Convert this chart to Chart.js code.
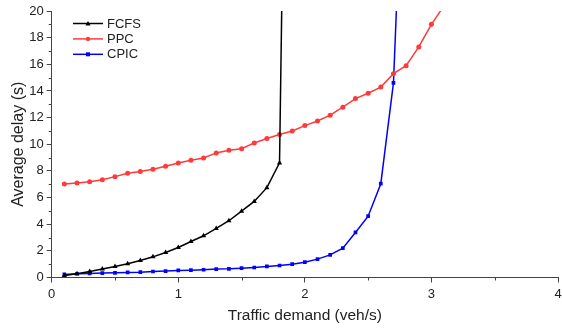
<!DOCTYPE html>
<html>
<head>
<meta charset="utf-8">
<script src="https://cdn.jsdelivr.net/npm/chart.js@4/dist/chart.umd.min.js"></script>
<style>
    html, body { margin: 0; padding: 0; background: #fff; }
    #wrap { width: 562px; height: 328px; }
</style>
</head>
<body>
<div id="wrap"><canvas id="chart" width="562" height="328"></canvas></div>
<script>
const seriesNames = ['FCFS', 'PPC', 'CPIC'];

const fcfsX = [0.1, 0.2, 0.3, 0.4, 0.5, 0.6, 0.7, 0.8, 0.9, 1.0, 1.1, 1.2, 1.3, 1.4, 1.5, 1.6, 1.7, 1.8, 1.9];
const fcfsY = [0.15, 0.28, 0.45, 0.63, 0.83, 1.03, 1.28, 1.55, 1.88, 2.25, 2.7, 3.13, 3.68, 4.26, 4.98, 5.71, 6.74, 8.6, 75];

const ppcX = [0.1, 0.2, 0.3, 0.4, 0.5, 0.6, 0.7, 0.8, 0.9, 1.0, 1.1, 1.2, 1.3, 1.4, 1.5, 1.6, 1.7, 1.8, 1.9, 2.0,
    2.1, 2.2, 2.3, 2.4, 2.5, 2.6, 2.7, 2.8, 2.9, 3.0, 3.1];
const ppcY = [7.02, 7.09, 7.19, 7.34, 7.57, 7.82, 7.95, 8.12, 8.35, 8.6, 8.8, 8.97, 9.35, 9.55, 9.67, 10.1, 10.43, 10.73, 11.0, 11.4,
    11.75, 12.18, 12.78, 13.43, 13.83, 14.29, 15.3, 15.9, 17.3, 19.0, 20.4];

const cpicX = [0.1, 0.2, 0.3, 0.4, 0.5, 0.6, 0.7, 0.8, 0.9, 1.0, 1.1, 1.2, 1.3, 1.4, 1.5, 1.6, 1.7, 1.8, 1.9, 2.0,
    2.1, 2.2, 2.3, 2.4, 2.5, 2.6, 2.7, 2.8];
const cpicY = [0.23, 0.28, 0.3, 0.33, 0.35, 0.38, 0.4, 0.45, 0.48, 0.53, 0.55, 0.58, 0.63, 0.65, 0.7, 0.75, 0.83, 0.9, 1.0, 1.15,
    1.38, 1.7, 2.2, 3.38, 4.6, 7.04, 14.6, 38];

const xTicks = [0, 1, 2, 3, 4];
const yTicks = [0, 2, 4, 6, 8, 10, 12, 14, 16, 18, 20];

const colors = { fcfs: '#000000', ppc: '#ff3a3a', cpic: '#0000ff', axis: '#444444', text: '#222222' };
const font = 'Arial, "Liberation Sans", sans-serif';

const toPoints = (xs, ys) => xs.map((x, i) => ({ x, y: ys[i] }));

// minor ticks at the half steps plus the small in-plot legend
const extrasPlugin = {
    id: 'extras',
    afterDraw(chart) {
        const { ctx, chartArea, scales } = chart;
        ctx.save();
        ctx.strokeStyle = colors.axis;
        ctx.lineWidth = 1;
        ctx.beginPath();
        for (let v = 0.5; v < 4; v += 1) {
            const px = Math.round(scales.x.getPixelForValue(v)) + 0.5;
            ctx.moveTo(px, chartArea.bottom);
            ctx.lineTo(px, chartArea.bottom + 3);
        }
        for (let v = 1; v < 20; v += 2) {
            const py = Math.round(scales.y.getPixelForValue(v)) + 0.5;
            ctx.moveTo(chartArea.left, py);
            ctx.lineTo(chartArea.left - 3, py);
        }
        ctx.stroke();

        const x0 = 73;
        const x1 = 103;
        chart.data.datasets.forEach((ds, i) => {
            const y = 23.5 + i * 15.4;
            ctx.strokeStyle = ds.borderColor;
            ctx.lineWidth = 1.5;
            ctx.beginPath();
            ctx.moveTo(x0, y);
            ctx.lineTo(x1, y);
            ctx.stroke();
            ctx.fillStyle = ds.borderColor;
            const mx = (x0 + x1) / 2;
            ctx.beginPath();
            if (ds.pointStyle === 'triangle') {
                ctx.moveTo(mx, y - 2.5);
                ctx.lineTo(mx + 2.5, y + 2);
                ctx.lineTo(mx - 2.5, y + 2);
            } else if (ds.pointStyle === 'rect') {
                ctx.rect(mx - 2, y - 2, 4, 4);
            } else {
                ctx.arc(mx, y, 2.2, 0, Math.PI * 2);
            }
            ctx.fill();
            ctx.fillStyle = colors.text;
            ctx.font = '13px ' + font;
            ctx.textBaseline = 'middle';
            ctx.textAlign = 'left';
            ctx.fillText(ds.label, x1 + 4, y + 0.5);
        });
        ctx.restore();
    }
};

const makeSeries = (label, xs, ys, color, style, radius) => ({
    label,
    data: toPoints(xs, ys),
    borderColor: color,
    backgroundColor: color,
    borderWidth: 1.5,
    pointStyle: style,
    pointRadius: radius,
    pointBorderWidth: 0,
    tension: 0
});

new Chart(document.getElementById('chart'), {
    type: 'line',
    data: {
        datasets: [
            makeSeries(seriesNames[0], fcfsX, fcfsY, colors.fcfs, 'triangle', 3),
            makeSeries(seriesNames[1], ppcX, ppcY, colors.ppc, 'circle', 2.5),
            makeSeries(seriesNames[2], cpicX, cpicY, colors.cpic, 'rect', 2.6)
        ]
    },
    options: {
        responsive: false,
        animation: false,
        layout: { padding: { top: 11, right: 2, left: 0, bottom: 0 } },
        plugins: { legend: { display: false }, tooltip: { enabled: false } },
        scales: {
            x: {
                type: 'linear',
                min: 0,
                max: 4,
                afterBuildTicks: (scale) => { scale.ticks = xTicks.map((value) => ({ value })); },
                afterFit: (scale) => { scale.height = 50.5; scale.paddingLeft = 0; scale.paddingRight = 0; },
                ticks: { color: colors.text, font: { family: font, size: 13 }, padding: 4, maxRotation: 0 },
                grid: { display: true, drawOnChartArea: false, drawTicks: true, tickLength: 5, color: colors.axis },
                border: { color: colors.axis, width: 1 },
                title: { display: true, text: 'Traffic demand (veh/s)', color: colors.text,
                    font: { family: font, size: 15.5 }, padding: { top: 0, bottom: 3 } }
            },
            y: {
                min: 0,
                max: 20,
                afterBuildTicks: (scale) => { scale.ticks = yTicks.map((value) => ({ value })); },
                afterFit: (scale) => { scale.width = 51.7; scale.paddingTop = 0; scale.paddingBottom = 0; },
                ticks: { color: colors.text, font: { family: font, size: 13 }, padding: 3 },
                grid: { display: true, drawOnChartArea: false, drawTicks: true, tickLength: 5, color: colors.axis },
                border: { color: colors.axis, width: 1 },
                title: { display: true, text: 'Average delay (s)', color: colors.text,
                    font: { family: font, size: 16 }, padding: { top: 9, bottom: 0 } }
            }
        }
    },
    plugins: [extrasPlugin]
});
</script>
</body>
</html>
